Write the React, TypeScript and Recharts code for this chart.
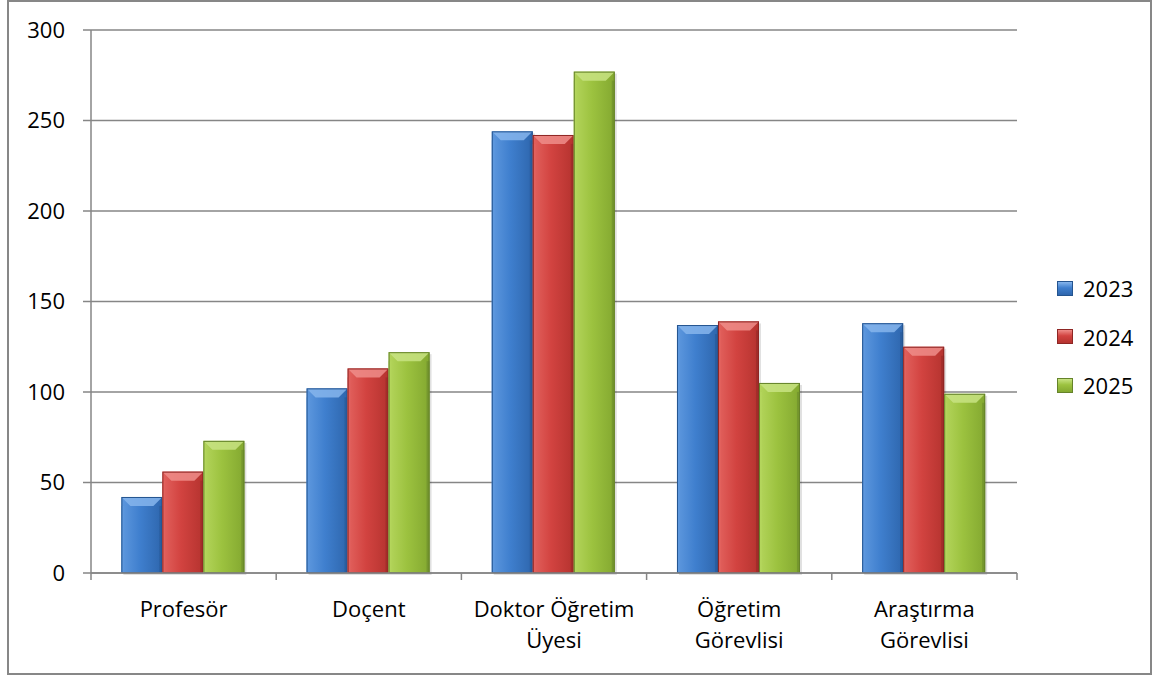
import React from 'react';
import { BarChart, Bar, XAxis, YAxis, CartesianGrid } from 'recharts';

const categories = ['Profesör', 'Doçent', 'Doktor Öğretim\nÜyesi', 'Öğretim\nGörevlisi', 'Araştırma\nGörevlisi'];
const years = ['2023', '2024', '2025'];
const s2023 = [42, 102, 244, 137, 138];
const s2024 = [56, 113, 242, 139, 125];
const s2025 = [73, 122, 277, 105, 99];
const yTicks = [0, 50, 100, 150, 200, 250, 300];

const seriesValues = [s2023, s2024, s2025];
const data = categories.map((name, i) => {
  const row: any = { name };
  years.forEach((y, k) => (row[y] = seriesValues[k][i]));
  return row;
});

const palettes: Record<string, { l: string; m: string; r: string; top: string; stroke: string }> = {
  '2023': { l: '#5e98de', m: '#3f7fce', r: '#2e66ad', top: '#86b5ec', stroke: '#24548f' },
  '2024': { l: '#e2625e', m: '#d24340', r: '#b5332f', top: '#ee8d89', stroke: '#8e2624' },
  '2025': { l: '#b4d55c', m: '#9cc23f', r: '#83a830', top: '#c8e383', stroke: '#65832a' },
};

const FONT = "'Open Sans', sans-serif";
const GRID = '#868686';

const makeShape = (key: string) => (props: any) => {
  const { x, y, width, height } = props;
  if (!height || height <= 0) return <g />;
  const p = palettes[key];
  const b = Math.min(9, width / 4, height / 2);
  const s = 3;
  const id = `grad-${key}`;
  return (
    <g>
      <defs>
        <linearGradient id={id} x1="0" y1="0" x2="1" y2="0">
          <stop offset="0%" stopColor={p.l} />
          <stop offset="45%" stopColor={p.m} />
          <stop offset="100%" stopColor={p.r} />
        </linearGradient>
      </defs>
      <rect x={x + 2} y={y + 2} width={width} height={height} fill="#000" opacity={0.12} />
      <rect x={x} y={y} width={width} height={height} fill={`url(#${id})`} />
      <polygon
        points={`${x},${y} ${x + width},${y} ${x + width - b},${y + b} ${x + b},${y + b}`}
        fill={p.top}
        opacity={0.85}
      />
      <rect x={x} y={y + b} width={s} height={Math.max(0, height - b)} fill={p.l} opacity={0.7} />
      <rect x={x + width - s} y={y + b} width={s} height={Math.max(0, height - b)} fill={p.stroke} opacity={0.5} />
      <rect x={x + 0.5} y={y + 0.5} width={width - 1} height={height - 1} fill="none" stroke={p.stroke} strokeWidth={1} />
    </g>
  );
};

const XTick = (props: any) => {
  const { x, y, payload, index, width } = props;
  const half = payload && payload.offset ? payload.offset : width / categories.length / 2;
  const lines = String(payload.value).split('\n');
  return (
    <g>
      <line x1={x - half} y1={y} x2={x - half} y2={y + 7} stroke={GRID} strokeWidth={1.5} />
      {index === categories.length - 1 && (
        <line x1={x + half} y1={y} x2={x + half} y2={y + 7} stroke={GRID} strokeWidth={1.5} />
      )}
      <text x={x} y={y + 44} textAnchor="middle" fill="#000" fontSize={22} fontFamily={FONT}>
        {lines.map((ln, i) => (
          <tspan key={i} x={x} dy={i === 0 ? 0 : 30.5}>
            {ln}
          </tspan>
        ))}
      </text>
    </g>
  );
};

export default function App() {
  return (
    <div style={{ position: 'absolute', left: 0, top: 0, width: 1152, height: 675, background: '#fff' }}>
      <div
        style={{
          position: 'absolute',
          left: 7,
          top: 0,
          width: 1145,
          height: 675,
          boxSizing: 'border-box',
          border: '2px solid #878787',
        }}
      />
      <div style={{ position: 'absolute', left: 0, top: 0 }}>
        <BarChart
          width={1152}
          height={675}
          data={data}
          margin={{ top: 30, right: 135, left: 0, bottom: 0 }}
          barCategoryGap="16.4%"
          barGap={0}
        >
          <CartesianGrid vertical={false} stroke={GRID} strokeWidth={1.5} />
          <XAxis
            dataKey="name"
            height={102}
            interval={0}
            tickLine={false}
            tickSize={0}
            tickMargin={0}
            axisLine={{ stroke: GRID, strokeWidth: 1.5 }}
            tick={<XTick />}
          />
          <YAxis
            width={91}
            domain={[0, 300]}
            ticks={yTicks}
            interval={0}
            tickSize={8}
            tickMargin={18}
            axisLine={{ stroke: GRID, strokeWidth: 1.5 }}
            tickLine={{ stroke: GRID, strokeWidth: 1.5 }}
            tick={{ fill: '#000', fontSize: 22, fontFamily: FONT }}
          />
          {years.map((yr) => (
            <Bar key={yr} dataKey={yr} fill={palettes[yr].m} shape={makeShape(yr)} isAnimationActive={false} />
          ))}
        </BarChart>
      </div>
      <div style={{ position: 'absolute', left: 1057, top: 264, fontFamily: FONT, fontSize: 22, color: '#000' }}>
        {years.map((yr) => {
          const p = palettes[yr];
          return (
            <div key={yr} style={{ height: 48.5, display: 'flex', alignItems: 'center' }}>
              <div
                style={{
                  width: 16,
                  height: 15,
                  boxSizing: 'border-box',
                  border: `1px solid ${p.stroke}`,
                  background: `linear-gradient(to bottom, ${p.top} 0%, ${p.m} 45%, ${p.r} 100%)`,
                  marginRight: 10,
                }}
              />
              <span style={{ lineHeight: '22px' }}>{yr}</span>
            </div>
          );
        })}
      </div>
    </div>
  );
}
